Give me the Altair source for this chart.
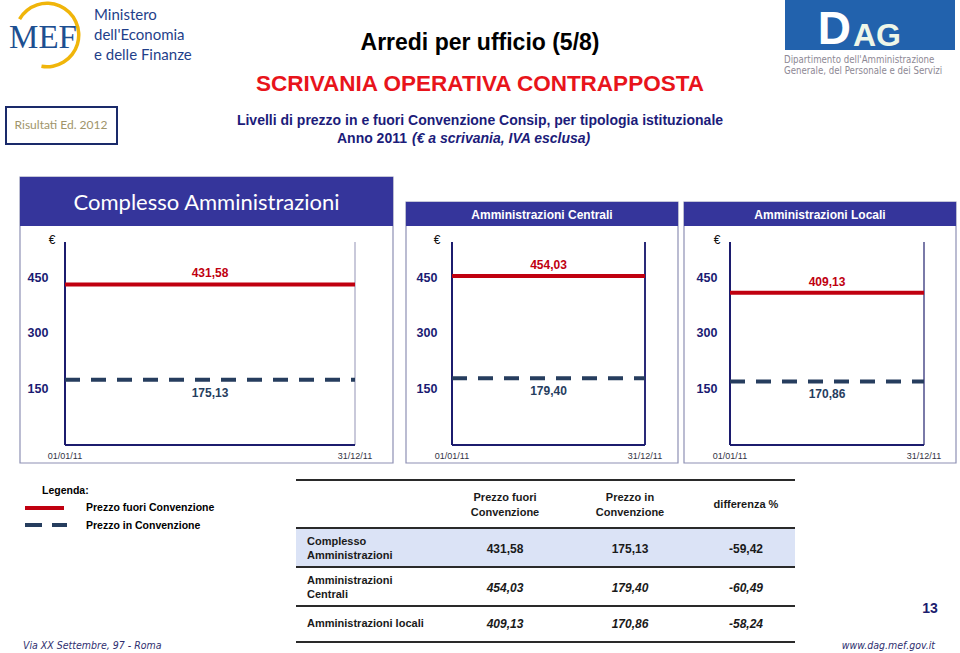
import altair as alt
import pandas as pd

# ---------------- data ----------------
panel_names = ["Complesso Amministrazioni", "Amministrazioni Centrali", "Amministrazioni Locali"]
prezzo_fuori = [431.58, 454.03, 409.13]
prezzo_in = [175.13, 179.40, 170.86]
differenza = [-59.42, -60.49, -58.24]
y_tick_values = [150, 300, 450]
period = ["2011-01-01T00:00:00", "2011-12-31T00:00:00"]
period_mid = "2011-07-02T00:00:00"
x_tick_labels = ["01/01/11", "31/12/11"]
table_row_labels = [["Complesso", "Amministrazioni"], ["Amministrazioni", "Centrali"], ["Amministrazioni locali"]]
table_headers = [["Prezzo fuori", "Convenzione"], ["Prezzo in", "Convenzione"], ["differenza %"]]


def it(v):
    return f"{v:.2f}".replace(".", ",")


# ---------------- style ----------------
FONT = "Liberation Sans, Arial, Helvetica, sans-serif"
NARROW = "Liberation Sans Narrow, Arial Narrow, DejaVu Sans Condensed, Liberation Sans, sans-serif"
HUMAN = "Lato, Open Sans, sans-serif"
NAVY = "#1c1c6e"
HEAD = "#35359b"
RED = "#c00010"
DASH = "#263d5e"
W, H = 960, 653
PX0, PXS = 445.0, 0.372  # pixel of value 0 and pixels per euro
YS = alt.Scale(domain=[(PX0 - H) / PXS, PX0 / PXS], range=[H, 0], nice=False, zero=False)
XDOM = [alt.DateTime(year=2011, month=1, date=1), alt.DateTime(year=2011, month=12, date=31)]
BASE = pd.DataFrame({"a": [0]})

layers = []


def vtext(text, x, y, size=12, color="#000000", weight="normal", style="normal",
          align="center", font=FONT, baseline="middle"):
    layers.append(
        alt.Chart(BASE).mark_text(fontSize=size, color=color, fontWeight=weight, fontStyle=style,
                                  align=align, baseline=baseline, font=font)
        .encode(x=alt.value(x), y=alt.value(y), text=alt.value(text))
    )


def vrect(x, x2, y, y2, fill, stroke=None, sw=0):
    kw = dict(fill=fill)
    if stroke:
        kw.update(stroke=stroke, strokeWidth=sw)
    layers.append(
        alt.Chart(BASE).mark_rect(**kw)
        .encode(x=alt.value(x), x2=alt.value(x2), y=alt.value(y), y2=alt.value(y2))
    )


def vrule(x, x2, y, y2, color, width, dash=None):
    kw = dict(color=color, strokeWidth=width, strokeCap="butt")
    if dash:
        kw["strokeDash"] = dash
    layers.append(
        alt.Chart(BASE).mark_rule(**kw)
        .encode(x=alt.value(x), x2=alt.value(x2), y=alt.value(y), y2=alt.value(y2))
    )


# ---------------- header of the slide ----------------
layers.append(
    alt.Chart(BASE).mark_arc(theta=5.24, theta2=9.6, radius=30, radius2=33.5, color="#f0b50a")
    .encode(x=alt.value(47), y=alt.value(35))
)
vtext("MEF", 43, 38, size=33, color="#1d4f91", font="Liberation Serif, DejaVu Serif, serif")
vtext("Ministero", 94, 15, size=15, color="#1f3f8a", align="left", font=HUMAN)
vtext("dell'Economia", 94, 35, size=15, color="#1f3f8a", align="left", font=HUMAN)
vtext("e delle Finanze", 94, 55, size=15, color="#1f3f8a", align="left", font=HUMAN)

vrect(785, 955, 0, 50, "#2262ad")
vtext("D", 851, 30, size=46, color="#ffffff", weight="bold", align="right", font=FONT)
vtext("AG", 853, 36, size=32, color="#eef6e8", weight="bold", align="left", font=FONT)
vtext("Dipartimento dell'Amministrazione", 784, 60, size=9.6, color="#8d8894", align="left", font=NARROW)
vtext("Generale, del Personale e dei Servizi", 784, 71, size=9.6, color="#8d8894", align="left", font=NARROW)

vrect(6, 117, 107, 144, "#ffffff", stroke="#1a2a6a", sw=2)
vtext("Risultati Ed. 2012", 61, 125, size=12, color="#a0946a", font=HUMAN)

vtext("Arredi per ufficio (5/8)", 480, 43, size=23, color="#000000", weight="bold")
vtext("SCRIVANIA OPERATIVA CONTRAPPOSTA", 480, 84, size=22.5, color="#e8141b", weight="bold")
vtext("Livelli di prezzo in e fuori Convenzione Consip, per tipologia istituzionale", 480, 121,
      size=14, color="#1c1c7a", weight="bold")
vtext("Anno 2011", 407, 139, size=14, color="#1c1c7a", weight="bold", align="right")
vtext("(\u20ac a scrivania, IVA esclusa)", 412, 139, size=14, color="#1c1c7a", weight="bold",
      style="italic", align="left")

# ---------------- the three panels ----------------
PANELS = [
    dict(frame=(20, 393, 177, 463), head=(177, 226), tsize=22, tfont=HUMAN, tweight="normal",
         plot=(65, 355), tick_x=38, euro_x=52, right="#c9c9da"),
    dict(frame=(406, 678, 202, 463), head=(202, 226), tsize=12, tfont=FONT, tweight="bold",
         plot=(452, 645), tick_x=427, euro_x=437, right="#2a2a78"),
    dict(frame=(684, 956, 202, 463), head=(202, 226), tsize=12, tfont=FONT, tweight="bold",
         plot=(730, 924), tick_x=707, euro_x=717, right="#7a7aa8"),
]

for i, P in enumerate(PANELS):
    fx0, fx1, fy0, fy1 = P["frame"]
    vrect(fx0, fx1, fy0, fy1, "#ffffff", stroke="#8e90b4", sw=1.2)
    vrect(fx0, fx1, P["head"][0], P["head"][1], HEAD)
    vtext(panel_names[i], (fx0 + fx1) / 2, (P["head"][0] + P["head"][1]) / 2 + 1,
          size=P["tsize"], color="#ffffff", weight=P["tweight"], font=P["tfont"])
    vtext("\u20ac", P["euro_x"], 240, size=12, color="#111111")

    xs = alt.Scale(domain=XDOM, range=list(P["plot"]))
    xenc = lambda f: alt.X(f, scale=xs, axis=None)

    df = pd.DataFrame({
        "start": [period[0], period[0]],
        "end": [period[1], period[1]],
        "mid": [period_mid, period_mid],
        "serie": ["Prezzo fuori Convenzione", "Prezzo in Convenzione"],
        "value": [prezzo_fuori[i], prezzo_in[i]],
        "label": [it(prezzo_fuori[i]), it(prezzo_in[i])],
    })
    df_out = df.iloc[[0]]
    df_in = df.iloc[[1]]

    # axes frame
    layers.append(alt.Chart(df_out).mark_rule(color=P["right"], strokeWidth=2)
                  .encode(x=xenc("end:T"), y=alt.value(242), y2=alt.value(PX0)))
    layers.append(alt.Chart(df_out).mark_rule(color=NAVY, strokeWidth=2)
                  .encode(x=xenc("start:T"), y=alt.value(242), y2=alt.value(PX0)))
    layers.append(alt.Chart(df_out).mark_rule(color=NAVY, strokeWidth=2)
                  .encode(x=xenc("start:T"), x2="end:T", y=alt.value(PX0)))

    # y tick labels
    layers.append(
        alt.Chart(pd.DataFrame({"v": y_tick_values}))
        .mark_text(fontSize=12.5, fontWeight="bold", color="#1a1a72", font=FONT)
        .encode(x=alt.value(P["tick_x"]), y=alt.Y("v:Q", scale=YS, axis=None),
                text=alt.Text("v:Q", format="d"))
    )
    # x tick labels
    layers.append(
        alt.Chart(pd.DataFrame({"d": period, "lab": x_tick_labels}))
        .mark_text(fontSize=9, color="#333344", font=FONT)
        .encode(x=xenc("d:T"), y=alt.value(456), text="lab:N")
    )

    # price lines
    layers.append(alt.Chart(df_out).mark_rule(color=RED, strokeWidth=4, strokeCap="butt")
                  .encode(x=xenc("start:T"), x2="end:T", y=alt.Y("value:Q", scale=YS, axis=None)))
    layers.append(alt.Chart(df_in).mark_rule(color=DASH, strokeWidth=4, strokeCap="butt",
                                             strokeDash=[15, 11])
                  .encode(x=xenc("start:T"), x2="end:T", y=alt.Y("value:Q", scale=YS, axis=None)))
    layers.append(alt.Chart(df_out).mark_text(dy=-11, fontSize=12, fontWeight="bold", color=RED, font=FONT)
                  .encode(x=xenc("mid:T"), y=alt.Y("value:Q", scale=YS, axis=None), text="label:N"))
    layers.append(alt.Chart(df_in).mark_text(dy=13, fontSize=12, fontWeight="bold", color=DASH, font=FONT)
                  .encode(x=xenc("mid:T"), y=alt.Y("value:Q", scale=YS, axis=None), text="label:N"))

# ---------------- legend ----------------
vtext("Legenda:", 42, 491, size=10.5, weight="bold", align="left")
vrule(25, 64, 508, 508, RED, 4)
vtext("Prezzo fuori Convenzione", 86, 508, size=10.5, weight="bold", align="left")
vrule(25, 67, 525, 525, DASH, 4, dash=[17, 10])
vtext("Prezzo in Convenzione", 86, 526, size=10.5, weight="bold", align="left")

# ---------------- table ----------------
TX0, TX1 = 296, 795
COLX = [505, 630, 746]
vrect(TX0, TX1, 528, 567, "#dbe3f6")
for yy in [480, 528, 567, 606, 642]:
    vrule(TX0, TX1, yy, yy, "#2a2a2a", 2)
for c, hdr in enumerate(table_headers):
    if len(hdr) == 2:
        vtext(hdr[0], COLX[c], 498, size=11, color="#1a1a1a", weight="bold")
        vtext(hdr[1], COLX[c], 513, size=11, color="#1a1a1a", weight="bold")
    else:
        vtext(hdr[0], COLX[c], 505, size=11, color="#1a1a1a", weight="bold")
ROW_Y = [(542, 556), (581, 595), (624,)]
VAL_Y = [549, 588, 624]
for r in range(3):
    for k, lab in enumerate(table_row_labels[r]):
        vtext(lab, 307, ROW_Y[r][k], size=11, color="#1a1a1a", weight="bold", align="left")
    st = "normal" if r == 0 else "italic"
    for c, v in enumerate([prezzo_fuori[r], prezzo_in[r], differenza[r]]):
        vtext(it(v), COLX[c], VAL_Y[r], size=12, color="#1a1a1a", weight="bold", style=st)

# ---------------- footer ----------------
vtext("Via XX Settembre, 97 - Roma", 23, 646, size=10.5, color="#2f2f6f", style="italic", align="left", font=NARROW)
vtext("www.dag.mef.gov.it", 935, 646, size=10.5, color="#2f2f6f", style="italic", align="right", font=NARROW)
vtext("13", 930, 609, size=14, color="#1c1c6e", weight="bold")

chart = (
    alt.layer(*layers)
    .resolve_scale(x="independent")
    .properties(width=W, height=H, padding=0, autosize="none", background="#ffffff")
    .configure_view(stroke=None)
)
chart.save("out.html", embed_options={"renderer": "svg", "actions": False})
